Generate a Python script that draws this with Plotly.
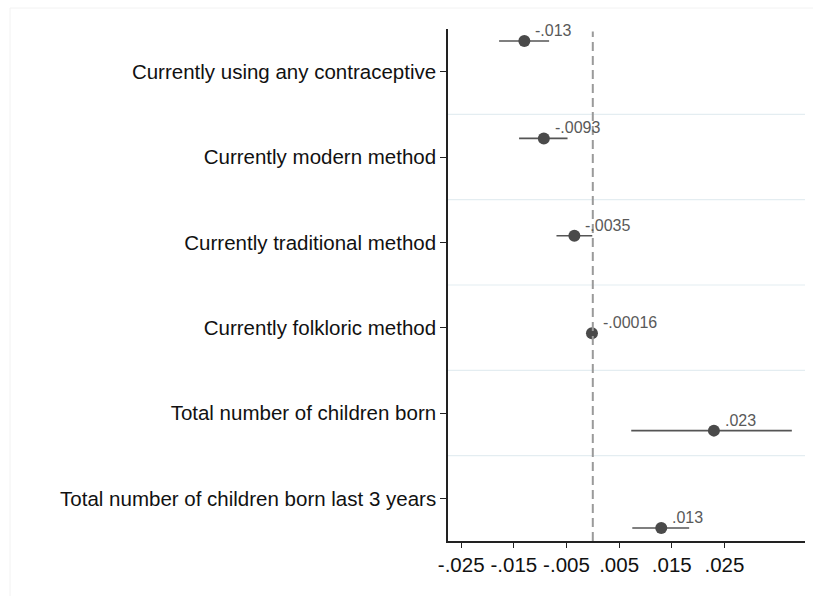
import plotly.graph_objects as go

# Outcomes (top to bottom), point estimates and 95% confidence bounds
outcomes = [
    "Currently using any contraceptive",
    "Currently modern method",
    "Currently traditional method",
    "Currently folkloric method",
    "Total number of children born",
    "Total number of children born last 3 years",
]
coef = [-0.013, -0.0093, -0.0035, -0.00016, 0.023, 0.013]
ci_low = [-0.0178, -0.0140, -0.0069, -0.0004, 0.0073, 0.0075]
ci_high = [-0.0083, -0.0048, -0.0001, 0.0001, 0.0378, 0.0183]

x_tickvals = [-0.025, -0.015, -0.005, 0.005, 0.015, 0.025]
x_ticktext = ["-.025", "-.015", "-.005", ".005", ".015", ".025"]

FONT = "Arial, Liberation Sans, sans-serif"


def stata_fmt(v):
    s = f"{v:g}"
    return s.replace("-0.", "-.") if s.startswith("-0.") else s.replace("0.", ".", 1)


positions = list(range(1, len(outcomes) + 1))
labels = [stata_fmt(v) for v in coef]

fig = go.Figure()

# invisible trace to anchor the category axis
fig.add_trace(go.Scatter(
    x=[0] * len(outcomes), y=positions, mode="markers",
    marker=dict(opacity=0), hoverinfo="skip", showlegend=False,
    yaxis="y",
))

fig.add_trace(go.Scatter(
    x=coef, y=positions, yaxis="y2",
    mode="markers",
    marker=dict(size=12, color="#4a4a4a"),
    error_x=dict(
        type="data", symmetric=False,
        array=[h - c for h, c in zip(ci_high, coef)],
        arrayminus=[c - l for c, l in zip(coef, ci_low)],
        color="#555555", thickness=1.6, width=0,
    ),
    cliponaxis=False,
    showlegend=False,
))

# coefficient labels to the upper right of each marker
annotations = [
    dict(
        x=c, y=p, xref="x", yref="y2", text=t, showarrow=False,
        xanchor="left", yanchor="bottom", xshift=9, yshift=0,
        font=dict(family=FONT, size=16, color="#595959"),
    )
    for c, p, t in zip(coef, positions, labels)
]

shapes = []
# separators between outcomes
for k in range(1, len(outcomes)):
    shapes.append(dict(
        type="line", xref="paper", yref="y", x0=0, x1=1, y0=k + 0.5, y1=k + 0.5,
        line=dict(color="#e4edf1", width=1.2), layer="below",
    ))
# reference line at zero
shapes.append(dict(
    type="line", xref="x", yref="paper", x0=0, x1=0, y0=0, y1=0.995,
    line=dict(color="#9a9a9a", width=2, dash="9px,5px"),
))
# faint outer graph-region border
shapes.append(dict(
    type="rect", xref="paper", yref="paper",
    x0=-438 / 357, x1=1.2, y0=-0.2, y1=21 / 512 + 1,
    line=dict(color="#f2f2f2", width=1), fillcolor="rgba(0,0,0,0)", layer="below",
))

fig.update_layout(
    width=813, height=596,
    margin=dict(l=448, r=8, t=29, b=55),
    paper_bgcolor="white", plot_bgcolor="white",
    font=dict(family=FONT, size=20, color="#111111"),
    shapes=shapes,
    annotations=annotations,
    xaxis=dict(
        range=[-0.0275, 0.0403],
        tickvals=x_tickvals, ticktext=x_ticktext,
        showgrid=False, zeroline=False,
        showline=True, linecolor="#222222", linewidth=1.5,
        ticks="outside", ticklen=5, tickwidth=1.3, tickcolor="#222222",
        tickfont=dict(size=20.5, color="#111111"),
    ),
    yaxis=dict(
        range=[6.5, 0.5],
        tickvals=positions, ticktext=outcomes,
        showgrid=False, zeroline=False,
        showline=True, linecolor="#222222", linewidth=1.5,
        ticks="outside", ticklen=6, tickwidth=1.3, tickcolor="#222222",
        tickfont=dict(size=20.5, color="#111111"),
    ),
    yaxis2=dict(
        range=[6.133, 0.877], overlaying="y", visible=False,
        showgrid=False, zeroline=False,
    ),
)

fig.write_html("out.html")
